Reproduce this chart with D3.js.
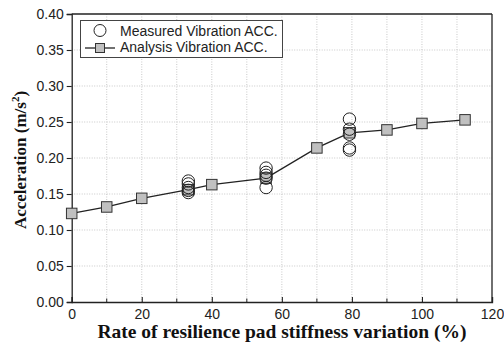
<!DOCTYPE html>
<html>
<head>
<meta charset="utf-8">
<script src="https://cdn.jsdelivr.net/npm/d3@7/dist/d3.min.js"></script>
<style>
  html, body { margin: 0; padding: 0; background: #fff; }
  svg { display: block; }
</style>
</head>
<body>
<svg id="chart" width="504" height="343"></svg>
<script>
// Analysis results: stiffness variation rate (%) vs. acceleration (m/s^2)
const analysisRate = [0, 10, 20, 33.3, 40, 55.5, 70, 79.3, 90, 100, 112.3];
const analysisAcc  = [0.123, 0.132, 0.144, 0.156, 0.163, 0.172, 0.214, 0.235, 0.239, 0.248, 0.253];

// Field measurements, grouped at three stiffness variation rates
const measuredRate = [33.3, 33.3, 33.3, 33.3, 33.3,
                      55.5, 55.5, 55.5, 55.5, 55.5,
                      79.3, 79.3, 79.3, 79.3, 79.3];
const measuredAcc  = [0.168, 0.164, 0.159, 0.155, 0.152,
                      0.186, 0.180, 0.176, 0.172, 0.159,
                      0.254, 0.240, 0.233, 0.214, 0.211];

const xTicks = [0, 20, 40, 60, 80, 100, 120];
const xMinorTicks = [10, 30, 50, 70, 90, 110];
const yTicks = [0, 0.05, 0.10, 0.15, 0.20, 0.25, 0.30, 0.35, 0.40];

const legendLabels = ["Measured Vibration ACC.", "Analysis Vibration ACC."];

const svg = d3.select("#chart");
const margin = { left: 71.7, right: 492, top: 14, bottom: 302 };

const x = d3.scaleLinear().domain([0, 120]).range([margin.left, margin.right]);
const y = d3.scaleLinear().domain([0, 0.40]).range([margin.bottom, margin.top]);

const tickFont = "'Liberation Sans', Arial, sans-serif";
const titleFont = "'Liberation Serif', 'Times New Roman', serif";

// Dotted grid
const grid = svg.append("g");
grid.selectAll("line.gx")
  .data(xTicks.concat(xMinorTicks).filter(d => d > 0 && d < 120))
  .join("line")
  .attr("x1", d => x(d)).attr("x2", d => x(d))
  .attr("y1", margin.top).attr("y2", margin.bottom)
  .attr("stroke", "#c8c8c8").attr("stroke-width", 1)
  .attr("stroke-dasharray", "1,1.5");
grid.selectAll("line.gy")
  .data(yTicks.filter(d => d > 0 && d < 0.40))
  .join("line")
  .attr("x1", margin.left).attr("x2", margin.right)
  .attr("y1", d => y(d)).attr("y2", d => y(d))
  .attr("stroke", "#c8c8c8").attr("stroke-width", 1)
  .attr("stroke-dasharray", "1,1.5");

// Bottom axis: inward ticks, major and minor
const xAxis = svg.append("g")
  .attr("transform", `translate(0,${margin.bottom})`)
  .call(d3.axisBottom(x).tickValues(xTicks).tickSize(-5).tickPadding(9)
    .tickFormat(d3.format("d")));
xAxis.append("g").selectAll("line")
  .data(xMinorTicks).join("line")
  .attr("x1", d => x(d)).attr("x2", d => x(d))
  .attr("y1", 0).attr("y2", -3.5)
  .attr("stroke", "#222");

// Left axis: outward ticks
const yAxis = svg.append("g")
  .attr("transform", `translate(${margin.left},0)`)
  .call(d3.axisLeft(y).tickValues(yTicks).tickSize(5).tickPadding(3)
    .tickFormat(d3.format(".2f")));

[xAxis, yAxis].forEach(a => {
  a.select(".domain").attr("stroke", "#222").attr("stroke-width", 1.3);
  a.selectAll(".tick line").attr("stroke", "#222").attr("stroke-width", 1.1);
  a.selectAll(".tick text")
    .attr("font-family", tickFont).attr("font-size", 14).attr("fill", "#222");
});
xAxis.selectAll(".tick text").attr("dy", "0.6em");

// Top and right frame
svg.append("line")
  .attr("x1", margin.left).attr("x2", margin.right)
  .attr("y1", margin.top).attr("y2", margin.top)
  .attr("stroke", "#222").attr("stroke-width", 1.3);
svg.append("line")
  .attr("x1", margin.right).attr("x2", margin.right)
  .attr("y1", margin.top).attr("y2", margin.bottom)
  .attr("stroke", "#222").attr("stroke-width", 1.3);

// Analysis line with square markers
const analysis = analysisRate.map((r, i) => ({ r, a: analysisAcc[i] }));
svg.append("path")
  .datum(analysis)
  .attr("d", d3.line().x(d => x(d.r)).y(d => y(d.a)))
  .attr("fill", "none").attr("stroke", "#222").attr("stroke-width", 1.3);

const sq = 10.5;
svg.append("g").selectAll("rect")
  .data(analysis).join("rect")
  .attr("x", d => x(d.r) - sq / 2).attr("y", d => y(d.a) - sq / 2)
  .attr("width", sq).attr("height", sq)
  .attr("fill", "#c0c0c0").attr("stroke", "#333").attr("stroke-width", 1);

// Measured points: open circles
const measured = measuredRate.map((r, i) => ({ r, a: measuredAcc[i] }));
svg.append("g").selectAll("circle")
  .data(measured).join("circle")
  .attr("cx", d => x(d.r)).attr("cy", d => y(d.a)).attr("r", 6.2)
  .attr("fill", "none").attr("stroke", "#222").attr("stroke-width", 1);

// Legend
const lg = svg.append("g");
lg.append("rect")
  .attr("x", 80.5).attr("y", 20.5).attr("width", 202).attr("height", 37)
  .attr("fill", "#fff").attr("stroke", "#444").attr("stroke-width", 1);
lg.append("circle")
  .attr("cx", 100).attr("cy", 30.5).attr("r", 6)
  .attr("fill", "none").attr("stroke", "#222").attr("stroke-width", 1);
lg.append("line")
  .attr("x1", 85).attr("x2", 115).attr("y1", 48).attr("y2", 48)
  .attr("stroke", "#222").attr("stroke-width", 1.3);
lg.append("rect")
  .attr("x", 100 - 4.5).attr("y", 48 - 4.5).attr("width", 9).attr("height", 9)
  .attr("fill", "#c0c0c0").attr("stroke", "#333").attr("stroke-width", 1);
lg.selectAll("text")
  .data(legendLabels).join("text")
  .attr("x", 120).attr("y", (d, i) => 35.5 + i * 16.5)
  .attr("font-family", tickFont).attr("font-size", 14).attr("fill", "#222")
  .text(d => d);

// Axis titles
svg.append("text")
  .attr("x", 282).attr("y", 338)
  .attr("text-anchor", "middle")
  .attr("font-family", titleFont).attr("font-weight", "bold").attr("font-size", 19.5)
  .attr("fill", "#111")
  .text("Rate of resilience pad stiffness variation (%)");

const yt = svg.append("text")
  .attr("transform", `translate(26,160) rotate(-90)`)
  .attr("text-anchor", "middle")
  .attr("font-family", titleFont).attr("font-weight", "bold").attr("font-size", 17)
  .attr("fill", "#111");
yt.append("tspan").text("Acceleration (m/s");
yt.append("tspan").attr("font-size", 11).attr("dy", -7).text("2");
yt.append("tspan").attr("dy", 7).text(")");
</script>
</body>
</html>
